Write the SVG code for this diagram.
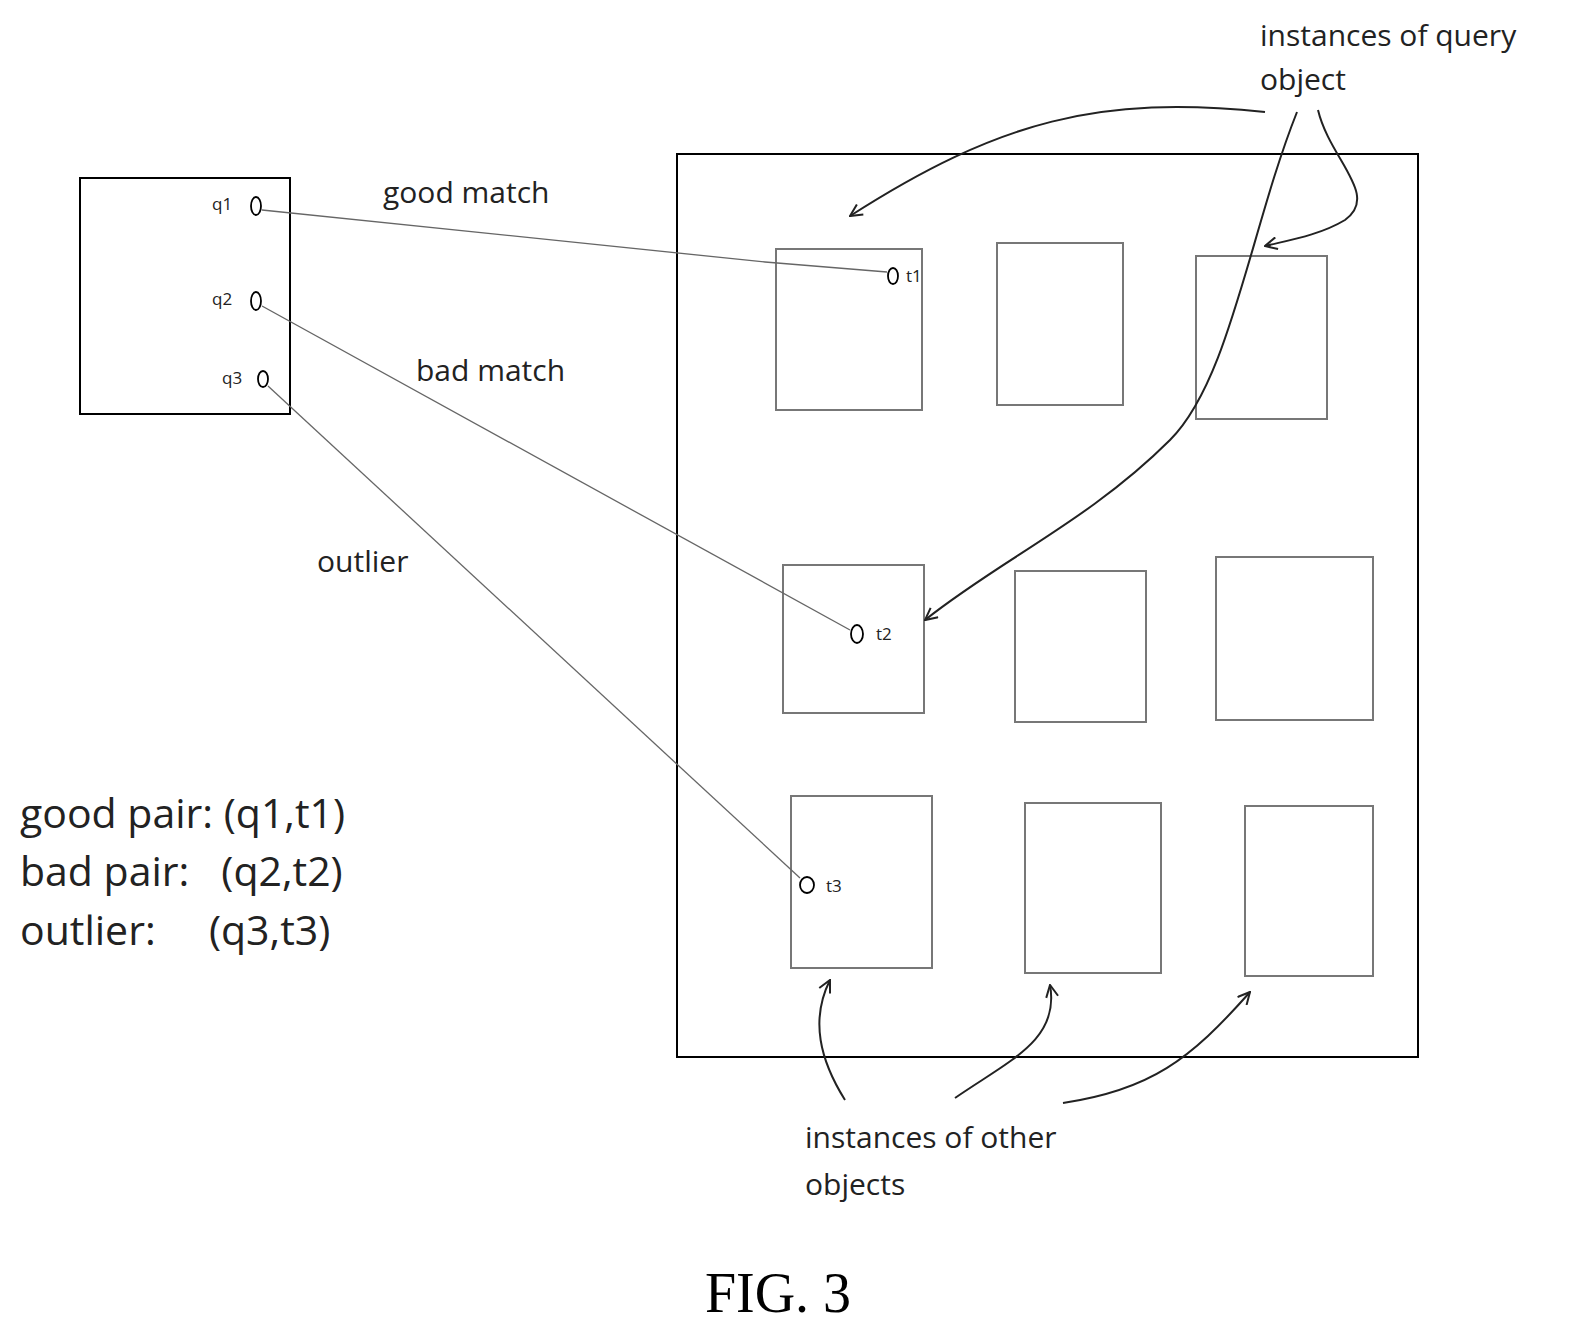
<svg xmlns="http://www.w3.org/2000/svg" width="1575" height="1340" viewBox="0 0 1575 1340">
<defs>
<style>
.box{fill:none;stroke:#000;stroke-width:2}
.ibox{fill:none;stroke:#777;stroke-width:2}
.ln{fill:none;stroke:#666;stroke-width:1.3}
.cv{fill:none;stroke:#222;stroke-width:2}
.pt{fill:none;stroke:#000;stroke-width:1.8}
.s{font-family:"Open Sans","Liberation Sans",sans-serif;fill:#222}
.lab{font-size:30px}
.sm{font-size:17px}
.leg{font-size:41px}
</style>
<marker id="ah" viewBox="0 0 14 14" refX="13" refY="7" markerWidth="14" markerHeight="14" markerUnits="userSpaceOnUse" orient="auto"><path d="M1,1 L13,7 L1,13" fill="none" stroke="#222" stroke-width="2"/></marker>
</defs>
<rect width="1575" height="1340" fill="#fff"/>
<g id="query-image">
<rect class="box" x="80" y="178" width="210" height="236"/>
<text class="s sm" x="212" y="210">q1</text><ellipse class="pt" cx="256" cy="206" rx="5" ry="9"/>
<text class="s sm" x="212" y="305">q2</text><ellipse class="pt" cx="256" cy="301" rx="5" ry="9"/>
<text class="s sm" x="222" y="384">q3</text><ellipse class="pt" cx="263" cy="379" rx="5" ry="8"/>
</g>
<g id="target-image">
<rect class="box" x="677" y="154" width="741" height="903"/>
<rect class="ibox" x="776" y="249" width="146" height="161"/>
<rect class="ibox" x="997" y="243" width="126" height="162"/>
<rect class="ibox" x="1196" y="256" width="131" height="163"/>
<rect class="ibox" x="783" y="565" width="141" height="148"/>
<rect class="ibox" x="1015" y="571" width="131" height="151"/>
<rect class="ibox" x="1216" y="557" width="157" height="163"/>
<rect class="ibox" x="791" y="796" width="141" height="172"/>
<rect class="ibox" x="1025" y="803" width="136" height="170"/>
<rect class="ibox" x="1245" y="806" width="128" height="170"/>
<ellipse class="pt" cx="893" cy="276" rx="5" ry="8"/><text class="s sm" x="906" y="282">t1</text>
<ellipse class="pt" cx="857" cy="634" rx="6" ry="9"/><text class="s sm" x="876" y="640">t2</text>
<ellipse class="pt" cx="807" cy="885" rx="7" ry="8"/><text class="s sm" x="826" y="892">t3</text>
</g>
<g id="connectors">
<path class="ln" d="M262,210 L765,262 L887,272"/>
<path class="ln" d="M262,306 L850,630"/>
<path class="ln" d="M268,386 L800,878"/>
<path class="cv" marker-end="url(#ah)" d="M1265,112 C1100,95 1000,120 850,216"/>
<path class="cv" marker-end="url(#ah)" d="M1297,112 C1250,230 1230,380 1170,440 C1090,520 1000,560 925,620"/>
<path class="cv" marker-end="url(#ah)" d="M1318,110 C1330,160 1380,195 1345,220 C1320,235 1290,240 1265,246"/>
<path class="cv" marker-end="url(#ah)" d="M845,1100 C820,1060 810,1020 830,980"/>
<path class="cv" marker-end="url(#ah)" d="M955,1098 C1010,1060 1060,1040 1050,985"/>
<path class="cv" marker-end="url(#ah)" d="M1063,1103 C1150,1090 1190,1060 1250,992"/>
</g>
<g id="labels">
<text class="s lab" x="383" y="203">good match</text>
<text class="s lab" x="416" y="381">bad match</text>
<text class="s lab" x="317" y="572">outlier</text>
<text class="s lab" x="1260" y="46">instances of query</text>
<text class="s lab" x="1260" y="90">object</text>
<text class="s lab" x="805" y="1148">instances of other</text>
<text class="s lab" x="805" y="1195">objects</text>
<text class="s leg" x="20" y="828">good pair: (q1,t1)</text>
<text class="s leg" x="20" y="886" xml:space="preserve">bad pair:   (q2,t2)</text>
<text class="s leg" x="20" y="945" xml:space="preserve">outlier:     (q3,t3)</text>
<text x="778" y="1312" text-anchor="middle" font-family="Liberation Serif,serif" font-size="56" fill="#000">FIG. 3</text>
</g>
</svg>
